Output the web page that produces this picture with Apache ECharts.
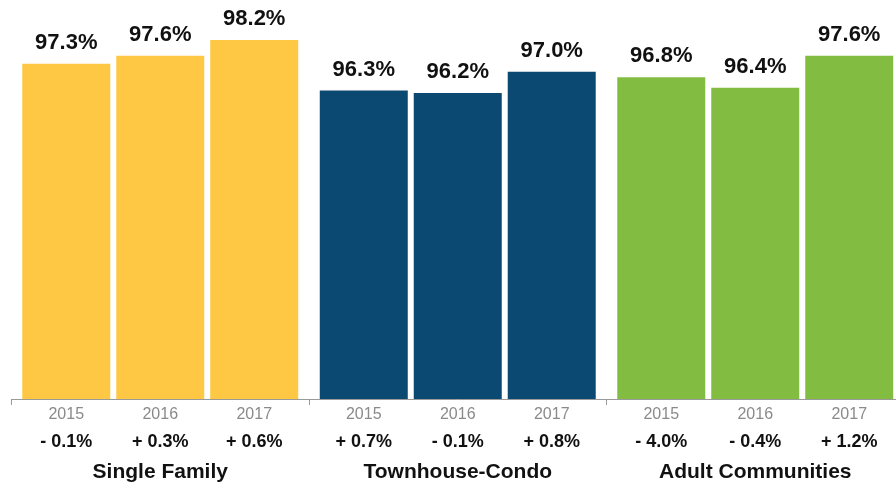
<!DOCTYPE html>
<html>
<head>
<meta charset="utf-8">
<script src="https://cdn.jsdelivr.net/npm/echarts@6/dist/echarts.min.js"></script>
<style>
  html, body { margin: 0; padding: 0; background: #fff; overflow: hidden; }
  /* chart runs a little past the right edge of the window, as in the picture */
  #chart { width: 910px; height: 485px; }
</style>
</head>
<body>
<div id="chart"></div>
<script>
// data
var groups = ["Single Family", "Townhouse-Condo", "Adult Communities"];
var years = ["2015", "2016", "2017"];
var singleFamily = [97.3, 97.6, 98.2];
var townhouseCondo = [96.3, 96.2, 97.0];
var adultCommunities = [96.8, 96.4, 97.6];
var changeSingle = ["- 0.1%", "+ 0.3%", "+ 0.6%"];
var changeTownhouse = ["+ 0.7%", "- 0.1%", "+ 0.8%"];
var changeAdult = ["- 4.0%", "- 0.4%", "+ 1.2%"];

var groupColors = ["#fec744", "#0b4872", "#82bd41"];
var font = "'Liberation Sans', Arial, sans-serif";

var values = [singleFamily, townhouseCondo, adultCommunities];
var changes = [changeSingle, changeTownhouse, changeAdult];

var series = [];
// bars with value labels on top
years.forEach(function (yr, i) {
  series.push({
    type: "bar",
    name: yr,
    xAxisIndex: 0,
    barWidth: 88,
    barGap: "6.8%",
    data: values.map(function (g) { return g[i]; }),
    itemStyle: {
      color: function (p) { return groupColors[p.dataIndex]; }
    },
    label: {
      show: true,
      position: "top",
      distance: 10,
      fontFamily: font,
      fontSize: 22,
      fontWeight: "bold",
      color: "#111",
      formatter: function (p) { return p.value.toFixed(1) + "%"; }
    },
    silent: true
  });
});
// same bars, invisible, on a twin axis: carry year + change below the baseline
years.forEach(function (yr, i) {
  series.push({
    type: "bar",
    xAxisIndex: 1,
    barWidth: 88,
    barGap: "6.8%",
    data: values.map(function (g) { return g[i]; }),
    itemStyle: { color: "rgba(0,0,0,0)" },
    label: {
      show: true,
      position: "bottom",
      distance: 3,
      fontFamily: font,
      formatter: function (p) {
        return "{y|" + yr + "}\n{c|" + changes[p.dataIndex][i] + "}";
      },
      rich: {
        y: { fontFamily: font, fontSize: 16, lineHeight: 26, color: "#8a8a8a", align: "center" },
        c: { fontFamily: font, fontSize: 18, lineHeight: 29, fontWeight: "bold", color: "#111", align: "center" }
      }
    },
    silent: true
  });
});

var chart = echarts.init(document.getElementById("chart"));
chart.setOption({
  animation: false,
  grid: { left: 11.5, top: 0, width: 892.5, height: 399, containLabel: false },
  xAxis: [
    {
      type: "category",
      data: groups,
      axisLine: { lineStyle: { color: "#9a9a9a", width: 1 } },
      axisTick: { show: true, length: 6, lineStyle: { color: "#9a9a9a" } },
      axisLabel: {
        margin: 63,
        fontFamily: font,
        fontSize: 21,
        fontWeight: "bold",
        color: "#111"
      }
    },
    {
      type: "category",
      data: groups,
      show: false
    }
  ],
  yAxis: {
    type: "value",
    min: 84.7,
    max: 99.7,
    show: false,
    splitLine: { show: false }
  },
  series: series
});
</script>
</body>
</html>
